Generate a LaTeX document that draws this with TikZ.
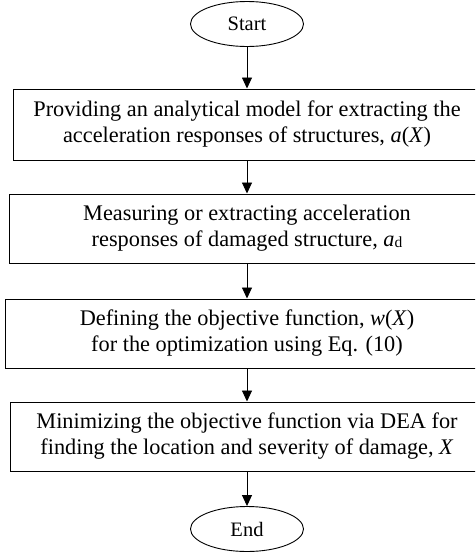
\documentclass[tikz,border=0pt]{standalone}
\usepackage{fontspec}
\setmainfont{Liberation Serif}
\usetikzlibrary{shapes.geometric,arrows.meta}
\begin{document}
\begin{tikzpicture}[x=1pt,y=-1pt,
  proc/.style={draw, line width=1pt, align=center, inner sep=0pt, minimum height=69pt, font=\fontsize{22.3}{26}\selectfont},
  term/.style={draw, ellipse, line width=0.9pt, minimum width=113pt, minimum height=45pt, inner sep=0pt, font=\fontsize{20.5}{24}\selectfont},
  arr/.style={-{Triangle[length=11pt,width=10pt]}, line width=0.9pt}]
\useasboundingbox (0,0) rectangle (475,554);
\clip (0,0) rectangle (475,554);
\node[term] (start) at (247,24) {Start};
\node[proc, minimum width=468pt, minimum height=71pt] (b1) at (247,124.5) {Providing an analytical model for extracting the\\acceleration responses of structures, \textit{a}(\textit{X})};
\node[proc, minimum width=476pt] (b2) at (247,228.5) {Measuring or extracting acceleration\\responses of damaged structure, \textit{a}\raisebox{-1pt}{\fontsize{15.5}{15.5}\selectfont d}};
\node[proc, minimum width=484pt] (b3) at (247,333.5) {Defining the objective function, \textit{w}(\textit{X})\\for the optimization using Eq. (10)};
\node[proc, minimum width=474pt] (b4) at (247,436.5) {Minimizing the objective function via DEA for\\finding the location and severity of damage, \textit{X}};
\node[term] (end) at (247,529) {End};
\draw[arr] (start) -- (b1);
\draw[arr] (b1) -- (b2);
\draw[arr] (b2) -- (b3);
\draw[arr] (b3) -- (b4);
\draw[arr] (b4) -- (end);
\end{tikzpicture}
\end{document}
